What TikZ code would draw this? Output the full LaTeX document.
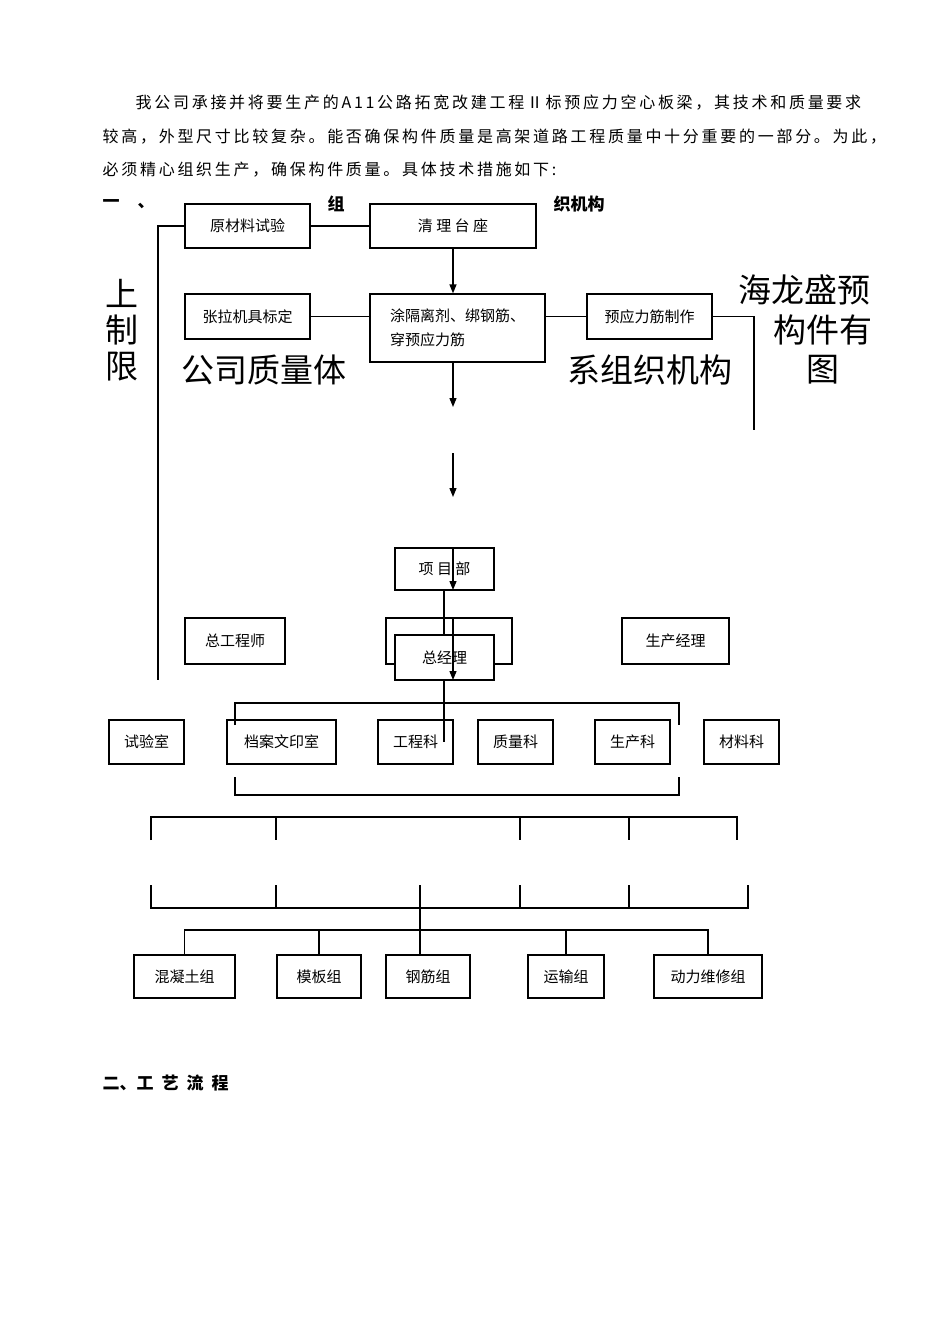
\documentclass[tikz,border=0pt]{standalone}
\usepackage{fontspec}
\setmainfont{Liberation Serif}
\newfontfamily\cjk{Noto Sans CJK SC}
\newfontfamily\cjkw[LetterSpace=17]{Noto Sans CJK SC}
\usetikzlibrary{arrows.meta}
\begin{document}
\begin{tikzpicture}[x=1pt,y=-1pt,line width=1.3pt,
  bx/.style={draw,thick,line width=1.3pt,font=\cjk\fontsize{15}{18}\selectfont,inner sep=0pt},
  ar/.style={-{Triangle[length=9pt,width=7pt]}},
  big/.style={font=\cjk\fontsize{33}{38}\selectfont,inner sep=0pt},
  txt/.style={font=\cjkw\fontsize{16}{20}\selectfont,inner sep=0pt,anchor=west},
  hd/.style={font=\cjk\bfseries\fontsize{17}{20}\selectfont,inner sep=0pt,anchor=west}]
\useasboundingbox[fill=white] (0,0) rectangle (950,1344);
% paragraph
\node[txt] (p1) at (135,103) {我公司承接并将要生产的A11公路拓宽改建工程Ⅱ标预应力空心板梁，其技术和质量要求};
\node[txt] (p2) at (102,137) {较高，外型尺寸比较复杂。能否确保构件质量是高架道路工程质量中十分重要的一部分。为此，};
\node[txt] (p3) at (102,170) {必须精心组织生产，确保构件质量。具体技术措施如下:};
\node[hd] (h1) at (102,204) {一\hspace{18pt}、};
\node[hd] (h2) at (327,204) {组};
\node[hd] (h3) at (553,204) {织机构};
\node[hd] (h4) at (102,1083) {二、工\hspace{8pt}艺\hspace{8pt}流\hspace{8pt}程};
% big texts
\node[big,align=center] (bl) at (122,330) {上\\[-2pt]制\\[-2pt]限};
\node[big] (bq) at (264,370) {公司质量体};
\node[big] (bs) at (650,370) {系组织机构};
\node[big] (br1) at (804,290) {海龙盛预};
\node[big] (br2) at (823,330) {构件有};
\node[big] (br3) at (823,370) {图};
% top boxes
\node[bx,minimum width=125pt,minimum height=44pt] (a1) at (247.5,226) {原材料试验};
\node[bx,minimum width=166pt,minimum height=44pt] (a2) at (453,226) {清 理 台 座\hspace{60pt}};
\node[bx,minimum width=125pt,minimum height=45pt] (b1) at (247.5,316.5) {张拉机具标定};
\node[bx,minimum width=175pt,minimum height=68pt,align=left] (b2) at (457.5,328) {涂隔离剂、绑钢筋、\\[6pt]穿预应力筋\hspace{70pt}};
\node[bx,minimum width=125pt,minimum height=45pt] (b3) at (649.5,316.5) {预应力筋制作};
\coordinate (lt) at (158,226); \coordinate (lb) at (158,680);
\draw (a1.west) -- (lt) -- (lb);
\draw (a1.east) -- (a2.west);
\draw[ar] (a2.south) -- (a2.south |- b2.north);
\draw (b1.east) -- (b1.east -| b2.west);
\draw (b3.west) -- (b3.west -| b2.east);
\coordinate (rt) at (754,316.5); \coordinate (rb) at (754,430);
\draw (b3.east) -- (rt) -- (rb);
\coordinate (d1) at (453,407);
\draw[ar] (d1 |- b2.south) -- (d1);
\coordinate (e0) at (453,453); \coordinate (e1) at (453,497);
\draw[ar] (e0) -- (e1);
% middle
\node[bx,minimum width=99pt,minimum height=42pt] (pm) at (444.5,569) {项 目 部};
\node[bx,minimum width=100pt,minimum height=46pt] (ce) at (235,641) {总工程师};
\draw (386,618) rectangle (512,664);
\node[bx,fill=white,minimum width=99pt,minimum height=45pt] (gm) at (444.5,657.5) {总经理};
\node[bx,minimum width=107pt,minimum height=46pt] (sm) at (675.5,641) {生产经理};
\draw[ar] (453,548) -- (453,590);
\draw (444,590) -- (444,635);
\draw (444,680) -- (444,742);
\draw[ar] (453,618) -- (453,680);
% department row
\node[bx,minimum width=75pt,minimum height=44pt] (r1) at (146.5,742) {试验室};
\node[bx,minimum width=109pt,minimum height=44pt] (r2) at (281.5,742) {档案文印室};
\node[bx,minimum width=75pt,minimum height=44pt] (r3) at (415.5,742) {工程科};
\node[bx,minimum width=75pt,minimum height=44pt] (r4) at (515.5,742) {质量科};
\node[bx,minimum width=75pt,minimum height=44pt] (r5) at (632.5,742) {生产科};
\node[bx,minimum width=75pt,minimum height=44pt] (r6) at (741.5,742) {材料科};
\draw (235,725) -- (235,703) -- (679,703) -- (679,725);
\draw (235,777) -- (235,795) -- (679,795) -- (679,777);
% lower brackets
\draw (151,840) -- (151,817) -- (737,817) -- (737,840);
\foreach \x in {276,520,629} \draw (\x,817) -- (\x,840);
\draw (151,885) -- (151,908) -- (748,908) -- (748,885);
\foreach \x in {276,520,629} \draw (\x,885) -- (\x,908);
% groups
\node[bx,minimum width=101pt,minimum height=43pt] (g1) at (184.5,976.5) {混凝土组};
\node[bx,minimum width=84pt,minimum height=43pt] (g2) at (319,976.5) {模板组};
\node[bx,minimum width=84pt,minimum height=43pt] (g3) at (428,976.5) {钢筋组};
\node[bx,minimum width=76pt,minimum height=43pt] (g4) at (566,976.5) {运输组};
\node[bx,minimum width=108pt,minimum height=43pt] (g5) at (708,976.5) {动力维修组};
\coordinate (hb) at (0,930);
\draw (420,885) -- (420,955);
\draw (g1.north) -- (g1.north |- hb) -- (g5.north |- hb) -- (g5.north);
\draw (g2.north) -- (g2.north |- hb);
\draw (g4.north) -- (g4.north |- hb);
\end{tikzpicture}
\end{document}
